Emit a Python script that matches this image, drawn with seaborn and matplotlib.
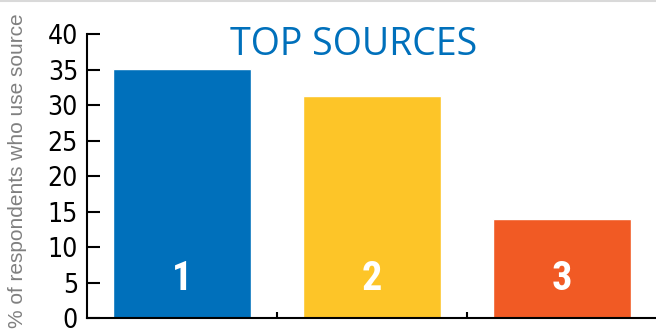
import matplotlib
matplotlib.use("Agg")
import matplotlib.pyplot as plt
import seaborn as sns
import pandas as pd
from matplotlib.lines import Line2D
from matplotlib import font_manager

categories = ["1", "2", "3"]
values = [35.1, 31.35, 14.0]
bar_colors = ["#0070BB", "#FDC528", "#F15A24"]
y_ticks = [0, 5, 10, 15, 20, 25, 30, 35, 40]
title = "TOP SOURCES"
ylabel = "% of respondents who use source"

sns.set_style("white")

# look for a narrow / condensed sans font if one is installed
narrow = None
bold_narrow = None
for f in font_manager.fontManager.ttflist:
    nm = f.name
    if ("Narrow" in nm or "Condensed" in nm) and "Mono" not in nm and "Serif" not in nm:
        if narrow is None:
            narrow = nm
        if f.weight in ("bold", 700) or (isinstance(f.weight, int) and f.weight >= 700):
            bold_narrow = nm
    if nm == "DejaVu Sans" and f.stretch == "condensed":
        if narrow is None:
            narrow = "DejaVu Sans"

fam = ([narrow] if narrow else []) + ['Liberation Sans', 'DejaVu Sans']
plt.rcParams['font.family'] = fam
stretch = 'condensed' if narrow == "DejaVu Sans" else 'normal'

df = pd.DataFrame({"cat": categories, "val": values})

fig = plt.figure(figsize=(6.56, 3.34), dpi=100)
ax = fig.add_axes([87/656, 15.7/334, 570/656, 284/334])

sns.barplot(data=df, x="cat", y="val", hue="cat", palette=bar_colors,
            width=0.724, legend=False, ax=ax, saturation=1)

ax.set_xlim(-0.5, 2.5)
ax.set_ylim(0, 40)
ax.set_yticks(y_ticks)
tick_size = 19 if narrow else 17
ax.set_yticklabels([str(t) for t in y_ticks], fontsize=tick_size, color="black",
                   fontstretch=stretch)
ax.set_xticks([0.5, 1.5])
ax.set_xticklabels([])
ax.tick_params(axis='y', left=True, direction='in', length=9.4, width=1.5, pad=6.5, colors='black')
ax.tick_params(axis='x', bottom=True, direction='in', length=4.3, width=1.5, colors='black')
ax.set_xlabel("")
ax.set_ylabel("")
for s in ["top", "right"]:
    ax.spines[s].set_visible(False)
for s in ["left", "bottom"]:
    ax.spines[s].set_color("black")
    ax.spines[s].set_linewidth(1.5)
    ax.spines[s].set_zorder(5)

num_fam = ([bold_narrow] if bold_narrow else ([narrow] if narrow else [])) + ['Liberation Sans', 'DejaVu Sans']
for i, c in enumerate(categories):
    ax.text(i, 5.5, c, ha='center', va='center', color='white',
            fontsize=29, fontweight='bold', family=num_fam, fontstretch=stretch)

fig.text(354/656, 1 - 45/334, title, ha='center', va='center',
         fontsize=27, color="#0070BB", family=['Open Sans', 'DejaVu Sans'])

fig.text(18/656, 1 - 13/334, ylabel, rotation=90, ha='center', va='top',
         fontsize=15, color="#808080", family=['Liberation Sans', 'DejaVu Sans'])

fig.add_artist(Line2D([0, 1], [1 - 0.7/334, 1 - 0.7/334], transform=fig.transFigure,
                      color="#d9d9d9", linewidth=1.5))

fig.savefig("out.png", dpi=100)
